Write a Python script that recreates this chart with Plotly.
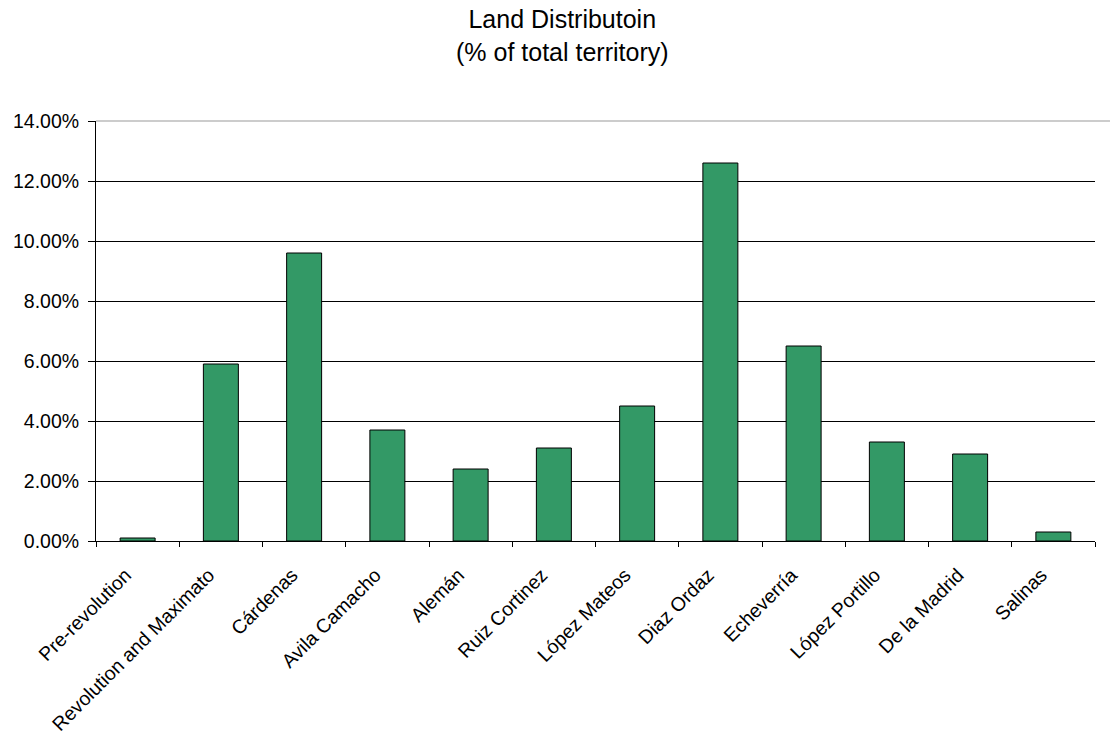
import plotly.graph_objects as go

categories = ["Pre-revolution", "Revolution and Maximato", "Cárdenas", "Avila Camacho",
              "Alemán", "Ruiz Cortinez", "López Mateos", "Diaz Ordaz", "Echeverría",
              "López Portillo", "De la Madrid", "Salinas"]
values = [0.001, 0.059, 0.096, 0.037, 0.024, 0.031, 0.045, 0.126, 0.065, 0.033, 0.029, 0.003]
y_ticks = [0, 0.02, 0.04, 0.06, 0.08, 0.10, 0.12, 0.14]
title_text = "Land Distributoin<br>(% of total territory)"

fig = go.Figure(go.Bar(
    x=categories, y=values,
    marker=dict(color="#339966", line=dict(color="black", width=1)),
))

fig.update_layout(
    width=1111, height=736,
    paper_bgcolor="white", plot_bgcolor="white",
    margin=dict(l=96, r=16, t=121, b=195),
    bargap=0.58,
    font=dict(family="Liberation Sans, Arial, sans-serif", size=16, color="black"),
    showlegend=False,
)
fig.add_annotation(
    text=title_text, xref="paper", yref="paper", x=0.4665, y=1.126,
    xanchor="center", yanchor="bottom", showarrow=False,
    font=dict(size=25, color="black"),
)
fig.update_xaxes(
    type="category", tickangle=-45, tickson="boundaries",
    ticks="outside", ticklen=5, tickcolor="black",
    showline=True, linecolor="black", linewidth=1,
    showgrid=False, tickfont=dict(size=19.5),
    ticklabelshift=-12, ticklabelstandoff=14, automargin=False,
)
fig.update_yaxes(
    range=[0, 0.14], tickvals=y_ticks, tickformat=".2%",
    ticks="outside", ticklen=7, tickcolor="black",
    showline=True, linecolor="black", linewidth=1,
    showgrid=True, gridcolor="black", gridwidth=1,
    zeroline=False, tickfont=dict(size=19.5), ticklabelstandoff=5, automargin=False,
)
fig.add_shape(type="line", xref="paper", yref="paper", x0=0, x1=1.015, y0=1, y1=1,
              line=dict(color="#999999", width=1))

fig.write_html("out.html")
